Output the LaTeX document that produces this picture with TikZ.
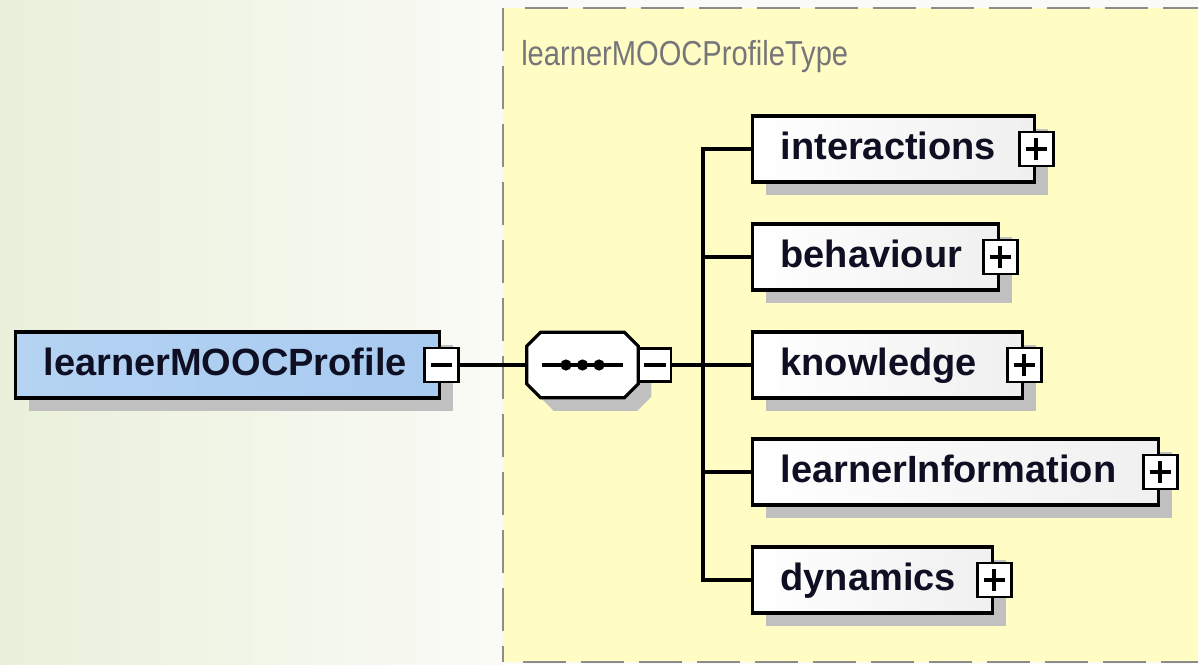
\documentclass[tikz,border=0pt]{standalone}
\usepackage{fontspec}
\setmainfont{Liberation Sans}
\usetikzlibrary{shadows}
\definecolor{bgl}{RGB}{233,240,218}
\definecolor{bgr}{RGB}{250,251,246}
\definecolor{ylw}{RGB}{255,253,196}
\definecolor{dashgray}{RGB}{140,140,140}
\definecolor{titlegray}{RGB}{118,118,122}
\definecolor{shadowgray}{RGB}{192,192,192}
\definecolor{elblue}{RGB}{168,203,240}
\definecolor{ink}{RGB}{15,15,35}
\begin{document}
\begin{tikzpicture}[x=0.75pt,y=-0.75pt,
  elshadow/.style={general shadow={shadow xshift=9.75pt,shadow yshift=-9.75pt,fill=shadowgray}},
  elbox/.style={draw=black,line width=2.4pt,rectangle,anchor=west,minimum height=49.5pt,
    inner xsep=21pt,inner ysep=0pt,text width=#1,align=left,
    font=\fontsize{28.5pt}{33pt}\selectfont\bfseries,text=ink,
    text height=20.5pt,text depth=5.5pt,left color=white,right color=black!6,elshadow},
  tog/.style={draw=black,line width=2.2pt,fill=white,minimum size=25.5pt,inner sep=0pt,rectangle},
  minusbox/.style={tog,path picture={\draw[line width=2.6pt]
      ([xshift=-8pt]path picture bounding box.center)--([xshift=8pt]path picture bounding box.center);}},
  plusbox/.style={tog,path picture={\draw[line width=2.6pt]
      ([xshift=-8pt]path picture bounding box.center)--([xshift=8pt]path picture bounding box.center)
      ([yshift=-8pt]path picture bounding box.center)--([yshift=8pt]path picture bounding box.center);}},
  conn/.style={draw=black,line width=2.4pt},
  dashline/.style={draw=dashgray,line width=2.2pt,dash pattern=on 32.25pt off 11.25pt}
]
\useasboundingbox (0,0) rectangle (1198,664);
\clip (0,0) rectangle (1198,664);
% background
\fill[bgr] (0,0) rectangle (1198,664);
\shade[left color=bgl,right color=bgr] (0,0) rectangle (503,664);
% type container
\fill[ylw] (503,8) rectangle (1215,662);
\draw[dashline] (525,8) -- (1215,8);
\draw[dashline] (503,8) -- (503,662);
\draw[dashline] (523,662) -- (1215,662);
\node[anchor=base west,inner sep=0pt,text=titlegray,font=\fontsize{26pt}{30pt}\selectfont] (title) at (521,65)
  {\scalebox{0.84}[1]{learnerMOOCProfileType}};

% root element
\node[elbox=276pt,left color=elblue!85!white,right color=elblue] (root) at (14,365) {learnerMOOCProfile};
\node[minusbox] (rootm) at (root.east) {};

% sequence compositor
\node[minimum width=83.25pt,minimum height=48.75pt,inner sep=0pt] (seq) at (582.5,365) {};
\draw[line width=2.4pt,fill=white,elshadow]
  ([xshift=10.5pt]seq.north west) -- ([xshift=-10.5pt]seq.north east)
  -- ([yshift=-10.5pt]seq.north east) -- ([yshift=10.5pt]seq.south east)
  -- ([xshift=-10.5pt]seq.south east) -- ([xshift=10.5pt]seq.south west)
  -- ([yshift=10.5pt]seq.south west) -- ([yshift=-10.5pt]seq.north west) -- cycle;
\draw[line width=2.4pt] ([xshift=-30.4pt]seq.center) -- ([xshift=30.4pt]seq.center);
\fill ([xshift=-12.4pt]seq.center) circle (4.2pt);
\fill (seq.center) circle (4.2pt);
\fill ([xshift=12.4pt]seq.center) circle (4.2pt);
\node[minusbox,minimum width=24pt,minimum height=25pt] (seqm) at (655,365) {};
\coordinate (jn) at (703,365);

% children
\node[elbox=169.5pt] (c1) at (751,149) {interactions};
\node[plusbox] (p1) at (c1.east) {};
\node[elbox=142.5pt] (c2) at (751,257) {behaviour};
\node[plusbox] (p2) at (c2.east) {};
\node[elbox=160.5pt] (c3) at (751,365) {knowledge};
\node[plusbox] (p3) at (c3.east) {};
\node[elbox=262.5pt] (c4) at (751,472) {learnerInformation};
\node[plusbox] (p4) at (c4.east) {};
\node[elbox=138pt] (c5) at (751,580) {dynamics};
\node[plusbox] (p5) at (c5.east) {};

% connectors
\draw[conn] (rootm.east) -- (seq.west);
\draw[conn] (seqm.east) -- (jn);
\draw[conn] (c1.west) -| (jn);
\draw[conn] (c2.west) -| (jn);
\draw[conn] (c3.west) -- (jn);
\draw[conn] (c4.west) -| (jn);
\draw[conn] (c5.west) -| (jn);
\end{tikzpicture}
\end{document}
